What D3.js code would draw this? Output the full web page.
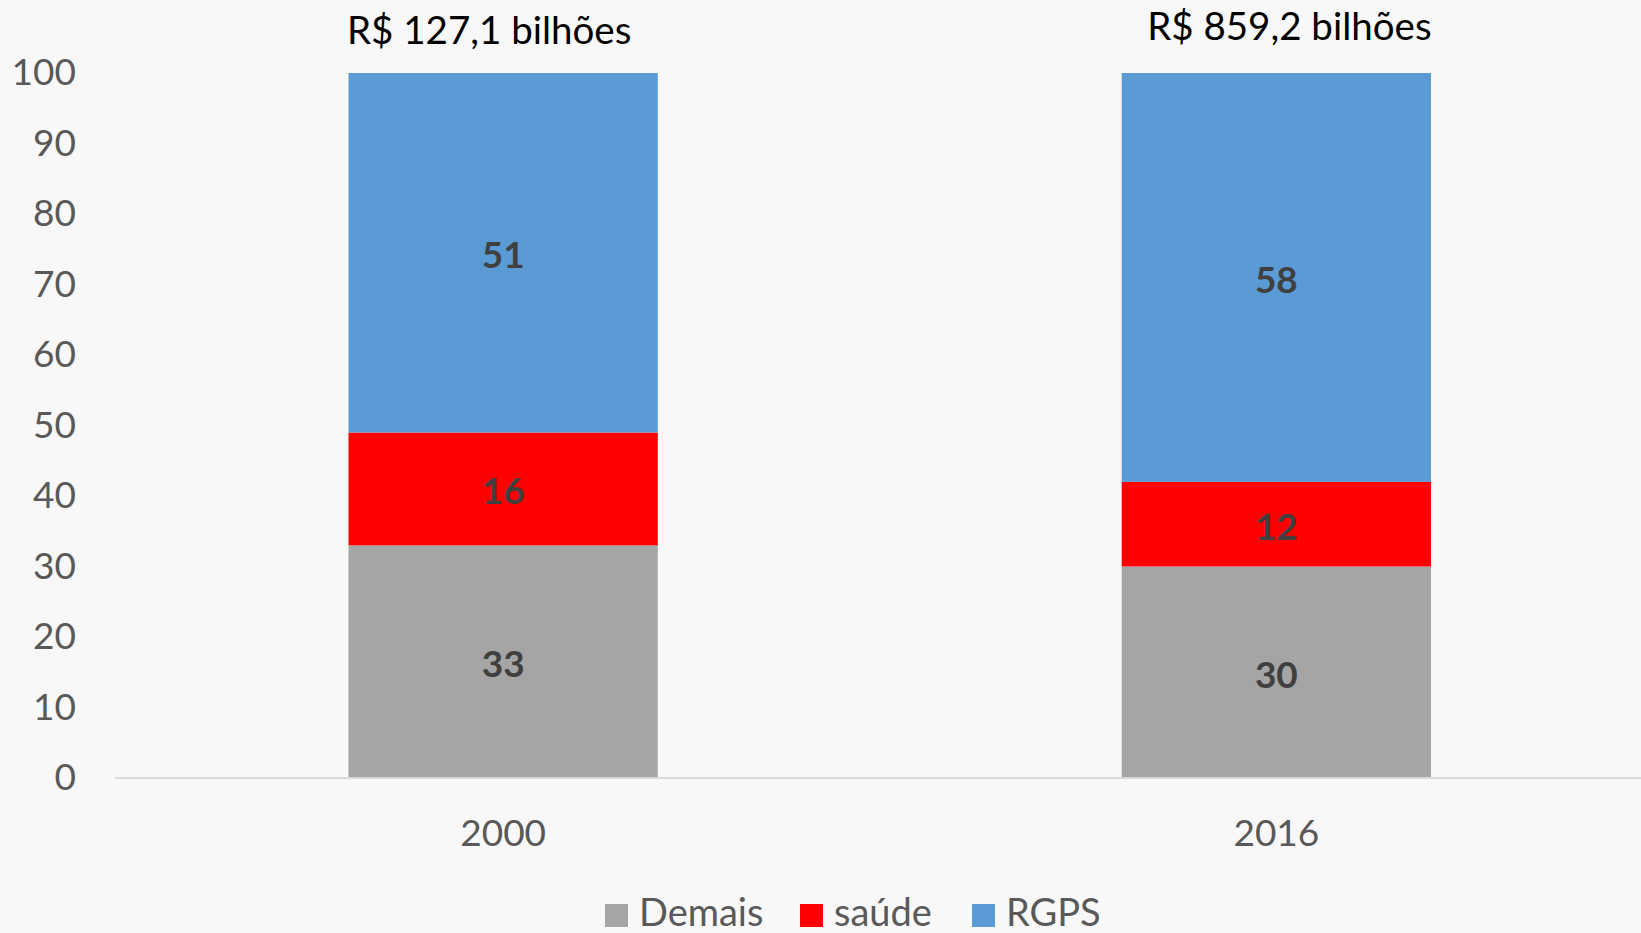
<!DOCTYPE html>
<html>
<head>
<meta charset="utf-8">
<script src="https://cdn.jsdelivr.net/npm/d3@7"></script>
<style>
    body { margin: 0; background: #f8f8f8; overflow: hidden; }
    svg { display: block; font-family: Lato, "Open Sans", sans-serif; }
</style>
</head>
<body>
<div id="chart"></div>
<script>
// Data
const years = ['2000', '2016'];
const totals = ['R$ 127,1 bilhões', 'R$ 859,2 bilhões'];
const seriesNames = ['Demais', 'saúde', 'RGPS'];
const demais = [33, 30];
const saude = [16, 12];
const rgps = [51, 58];
const colors = ['#a5a5a5', '#ff0000', '#5b9bd5'];
const yTicks = [0, 10, 20, 30, 40, 50, 60, 70, 80, 90, 100];

const W = 1641, H = 933;
const plotTop = 73, plotBottom = 778, axisLeft = 115;

const rows = years.map((y, i) => ({ year: y, Demais: demais[i], 'saúde': saude[i], RGPS: rgps[i] }));
const stacked = d3.stack().keys(seriesNames)(rows);

const svg = d3.select('#chart')
    .append('svg')
    .attr('width', W)
    .attr('height', H);

const x = d3.scaleBand()
    .domain(years)
    .range([348.5, 1431])
    .paddingInner(0.6)
    .paddingOuter(0);

const y = d3.scaleLinear()
    .domain([0, 100])
    .range([plotBottom, plotTop]);

// y tick labels (no axis line)
const yAxis = svg.append('g')
    .attr('transform', `translate(${76},0)`)
    .call(d3.axisLeft(y).tickValues(yTicks).tickSize(0).tickPadding(0));
yAxis.select('.domain').remove();
yAxis.selectAll('text')
    .attr('font-size', 37)
    .attr('font-family', 'Lato, sans-serif')
    .attr('fill', '#595959');

// bars
svg.append('g')
    .selectAll('g')
    .data(stacked)
    .enter()
    .append('g')
    .attr('fill', (d, i) => colors[i])
    .selectAll('rect')
    .data(d => d)
    .enter()
    .append('rect')
    .attr('x', d => x(d.data.year))
    .attr('y', d => y(d[1]))
    .attr('width', x.bandwidth())
    .attr('height', d => y(d[0]) - y(d[1]));

// value labels
stacked.forEach(layer => {
    svg.append('g')
        .selectAll('text')
        .data(layer)
        .enter()
        .append('text')
        .attr('x', d => x(d.data.year) + x.bandwidth() / 2)
        .attr('y', d => (y(d[0]) + y(d[1])) / 2)
        .attr('dy', '0.42em')
        .attr('text-anchor', 'middle')
        .attr('font-size', 37)
        .attr('font-weight', 'bold')
        .attr('fill', '#404040')
        .text(d => d[1] - d[0]);
});

// baseline
svg.append('line')
    .attr('x1', axisLeft)
    .attr('x2', W)
    .attr('y1', y(0))
    .attr('y2', y(0))
    .attr('stroke', '#d9d9d9')
    .attr('stroke-width', 2);

// x axis labels
const xAxis = svg.append('g')
    .attr('transform', `translate(0,${y(0)})`)
    .call(d3.axisBottom(x).tickSize(0).tickPadding(42));
xAxis.select('.domain').remove();
xAxis.selectAll('text')
    .attr('font-size', 37)
    .attr('font-family', 'Lato, sans-serif')
    .attr('fill', '#595959');

// totals above bars
svg.append('g')
    .selectAll('text')
    .data(years)
    .enter()
    .append('text')
    .attr('x', (d, i) => x(d) + x.bandwidth() / 2 + (i === 0 ? -14 : 13))
    .attr('y', (d, i) => i === 0 ? 44 : 40)
    .attr('text-anchor', 'middle')
    .attr('font-size', 38.5)
    .attr('fill', '#000')
    .text((d, i) => totals[i]);

// legend
const legendX = [605, 800, 972];
const legend = svg.append('g')
    .selectAll('g')
    .data(seriesNames)
    .enter()
    .append('g')
    .attr('transform', (d, i) => `translate(${legendX[i]},${912})`);
legend.append('rect')
    .attr('x', 0)
    .attr('y', -8)
    .attr('width', 23)
    .attr('height', 23)
    .attr('fill', (d, i) => colors[i]);
legend.append('text')
    .attr('x', 34)
    .attr('y', 0)
    .attr('dy', '0.36em')
    .attr('font-size', 38)
    .attr('fill', '#595959')
    .text(d => d);
</script>
</body>
</html>
